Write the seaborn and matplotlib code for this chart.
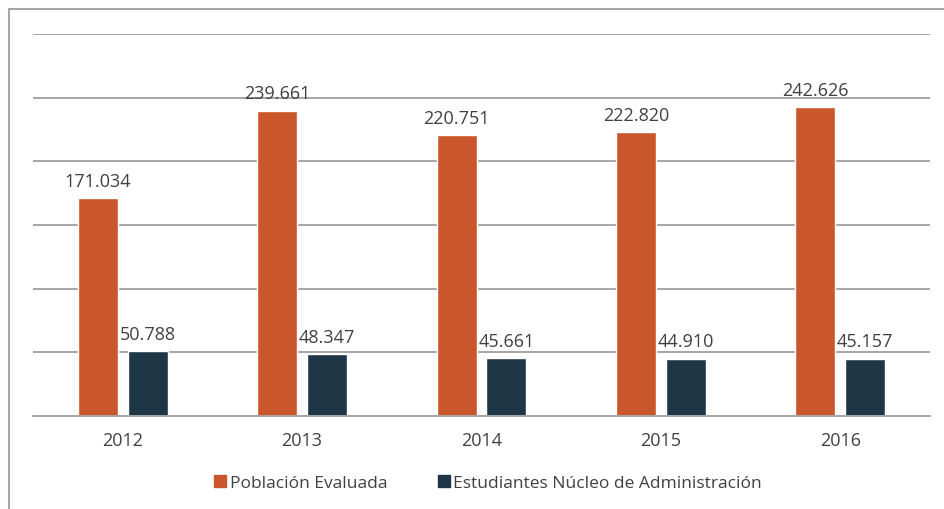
import matplotlib
matplotlib.use("Agg")
import matplotlib.pyplot as plt
import seaborn as sns
import pandas as pd
from matplotlib.lines import Line2D

years = ["2012", "2013", "2014", "2015", "2016"]
series_names = ["Población Evaluada", "Estudiantes Núcleo de Administración"]
poblacion = [171034, 239661, 220751, 222820, 242626]
estudiantes = [50788, 48347, 45661, 44910, 45157]
colors = ["#C9572B", "#1F3647"]

df = pd.DataFrame({
    "year": years * 2,
    "serie": [series_names[0]] * len(years) + [series_names[1]] * len(years),
    "value": poblacion + estudiantes,
})

sns.set_theme(style="white")
plt.rcParams["font.family"] = ["Open Sans", "DejaVu Sans"]
text_color = "#404040"
grid_color = "#A6A6A6"

fig = plt.figure(figsize=(9.45, 5.1), dpi=100)
ax = fig.add_axes([33 / 945, 1 - 417 / 510, (930 - 33) / 945, (417 - 35) / 510])

sns.barplot(data=df, x="year", y="value", hue="serie", palette=colors,
            width=0.557, gap=0.2, ax=ax, legend=False, saturation=1)

ax.set_ylim(0, 300000)
ax.set_xlim(-0.5, len(years) - 0.5)
ax.set_yticks(range(0, 300001, 50000))
ax.yaxis.grid(True, color=grid_color, linewidth=1.4)
ax.set_axisbelow(True)
ax.tick_params(axis="y", left=False, labelleft=False)
ax.tick_params(axis="x", bottom=False, labelsize=13, labelcolor=text_color, pad=5)
ax.set_xlabel("")
ax.set_ylabel("")
for s in ["top", "right", "left"]:
    ax.spines[s].set_visible(False)
ax.spines["bottom"].set_color(grid_color)
ax.spines["bottom"].set_linewidth(1.4)

def fmt(v):
    return f"{int(round(v)):,}".replace(",", ".")

for cont in ax.containers:
    ax.bar_label(cont, labels=[fmt(b.get_height()) for b in cont],
                 padding=6, fontsize=13, color=text_color)

handles = [Line2D([], [], marker="s", linestyle="none", markersize=9,
                  markerfacecolor=c, markeredgecolor=c) for c in colors]
fig.legend(handles, series_names, loc="center", bbox_to_anchor=(487 / 945, 1 - 484 / 510),
           ncol=2, frameon=False, fontsize=12.5, labelcolor=text_color,
           handletextpad=0.1, columnspacing=2.8, handlelength=0.9)

fig.add_artist(Line2D([9 / 945, 9 / 945], [0, 1 - 10 / 510], transform=fig.transFigure,
                      color=grid_color, linewidth=1.5))
fig.add_artist(Line2D([9 / 945, 1], [1 - 10 / 510, 1 - 10 / 510], transform=fig.transFigure,
                      color=grid_color, linewidth=1.5))

fig.savefig("out.png", dpi=100)
